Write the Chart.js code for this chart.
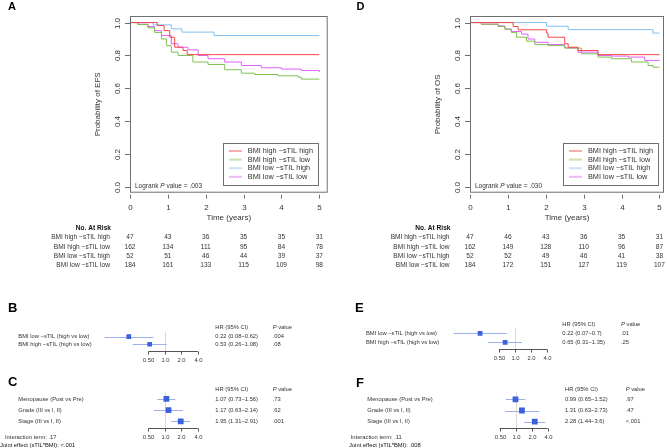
<!DOCTYPE html>
<html lang="en">
<head>
<meta charset="UTF-8">
<title>BMI and sTIL survival</title>
<script src="https://cdn.jsdelivr.net/npm/chart.js"></script>
<style>
  body { margin: 0; background: #fff; }
  #page { position: relative; width: 667px; height: 448px; overflow: hidden; background: #fff; }
  canvas { position: absolute; }
</style>
</head>
<body>
<div id="page">
  <canvas id="chartA" width="330" height="290" style="left:0;top:0"></canvas>
  <canvas id="chartD" width="337" height="290" style="left:330px;top:0"></canvas>
  <canvas id="chartB" width="330" height="72" style="left:0;top:290px"></canvas>
  <canvas id="chartC" width="330" height="86" style="left:0;top:362px"></canvas>
  <canvas id="chartE" width="337" height="72" style="left:330px;top:290px"></canvas>
  <canvas id="chartF" width="337" height="86" style="left:330px;top:362px"></canvas>
</div>

<script>
  const FONT = '"Liberation Sans", Arial, sans-serif';

  // shared labels
  const years = [0, 1, 2, 3, 4, 5];
  const probTicks = [0, 0.2, 0.4, 0.6, 0.8, 1.0];
  const groups = ['BMI high \u2212sTIL high', 'BMI high \u2212sTIL low', 'BMI low \u2212sTIL high', 'BMI low \u2212sTIL low'];
  const groupColors = ['#f04848', '#80c050', '#80c0f0', '#e060f8'];
  const legendColors = ['rgba(240,72,72,0.45)', 'rgba(128,192,80,0.45)', 'rgba(128,192,240,0.45)', 'rgba(224,96,248,0.45)'];

  // EFS curves (time in years, survival after the step)
  const efsHighHighT = [0, 0.72, 0.9, 1.05, 1.18, 1.4, 1.51, 5];
  const efsHighHighS = [1, 0.982, 0.951, 0.911, 0.85, 0.83, 0.805, 0.805];
  const efsHighLowT = [0, 0.21, 0.475, 0.65, 0.83, 0.96, 1.09, 1.27, 1.66, 2.06, 2.5, 2.94, 3.29, 3.91, 4.44, 4.52, 5];
  const efsHighLowS = [1, 0.988, 0.968, 0.94, 0.9, 0.86, 0.82, 0.8, 0.76, 0.745, 0.713, 0.692, 0.684, 0.676, 0.668, 0.656, 0.656];
  const efsLowHighT = [0, 0.61, 1.09, 1.37, 2.22, 5];
  const efsLowHighS = [1, 0.986, 0.962, 0.942, 0.921, 0.921];
  const efsLowLowT = [0, 0.2, 0.475, 0.65, 0.83, 1.09, 1.27, 1.53, 1.8, 2.06, 2.5, 2.94, 3.47, 4.0, 4.52, 5];
  const efsLowLowS = [1, 0.99, 0.976, 0.951, 0.921, 0.871, 0.85, 0.834, 0.8, 0.78, 0.76, 0.739, 0.725, 0.717, 0.708, 0.699];

  // OS curves
  const osHighHighT = [0, 1.14, 1.27, 2.02, 2.06, 2.5, 2.59, 2.85, 3.38, 5];
  const osHighHighS = [1, 0.976, 0.956, 0.936, 0.911, 0.871, 0.85, 0.83, 0.805, 0.805];
  const osHighLowT = [0, 0.3, 0.74, 0.92, 1.09, 1.23, 1.49, 1.71, 2.06, 2.5, 2.94, 3.38, 3.73, 4.26, 4.7, 4.83, 5];
  const osHighLowS = [1, 0.99, 0.976, 0.96, 0.94, 0.911, 0.887, 0.866, 0.86, 0.845, 0.81, 0.79, 0.78, 0.76, 0.739, 0.729, 0.729];
  const osLowHighT = [0, 2.02, 2.59, 4.83, 5];
  const osLowHighS = [1, 0.978, 0.957, 0.936, 0.936];
  const osLowLowT = [0, 0.3, 0.74, 0.92, 1.09, 1.36, 1.53, 1.71, 2.06, 2.5, 2.85, 3.38, 3.73, 4.17, 4.61, 5];
  const osLowLowS = [1, 0.99, 0.98, 0.96, 0.946, 0.93, 0.9, 0.88, 0.866, 0.846, 0.82, 0.8, 0.796, 0.79, 0.77, 0.77];

  // numbers at risk, one row per group, columns = years
  const efsRisk = [[47, 43, 36, 35, 35, 31], [162, 134, 111, 95, 84, 78], [52, 51, 46, 44, 39, 37], [184, 161, 133, 115, 109, 98]];
  const osRisk = [[47, 46, 43, 36, 35, 31], [162, 149, 128, 110, 96, 87], [52, 52, 49, 46, 41, 38], [184, 172, 151, 127, 119, 107]];

  // forest plots
  const hrTicks = [0.5, 1, 2, 4];
  const hrTickLabels = ['0.50', '1.0', '2.0', '4.0'];
  const sTilRows = ['BMI low \u2212sTIL (high vs low)', 'BMI high \u2212sTIL (high vs low)'];
  const covRows = ['Menopause (Post vs Pre)', 'Grade (III vs I, II)', 'Stage (III vs I, II)'];
  const bHR = [0.22, 0.53], bLo = [0.08, 0.26], bHi = [0.62, 1.08], bP = ['.004', '.08'];
  const cHR = [1.07, 1.17, 1.95], cLo = [0.73, 0.63, 1.31], cHi = [1.56, 2.14, 2.91], cP = ['.73', '.62', '.001'];
  const eHR = [0.22, 0.65], eLo = [0.07, 0.31], eHi = [0.7, 1.35], eP = ['.01', '.25'];
  const fHR = [0.99, 1.31, 2.28], fLo = [0.65, 0.63, 1.44], fHi = [1.52, 2.73, 3.6], fP = ['.97', '.47', '<.001'];

  function txt(ctx, s, x, y, size, align, style, color) {
    ctx.save();
    ctx.font = (style ? style + ' ' : '') + size + 'px ' + FONT;
    ctx.fillStyle = color || '#333';
    ctx.textAlign = align || 'left';
    ctx.textBaseline = 'middle';
    ctx.fillText(s, x, y);
    ctx.restore();
  }

  // "<before>P<after>" with an italic P, left aligned
  function pText(ctx, before, after, x, y, size) {
    ctx.save();
    ctx.font = size + 'px ' + FONT;
    const w1 = ctx.measureText(before).width;
    ctx.font = 'italic ' + size + 'px ' + FONT;
    const w2 = ctx.measureText('P').width;
    ctx.restore();
    txt(ctx, before, x, y, size);
    txt(ctx, 'P', x + w1, y, size, 'left', 'italic');
    txt(ctx, after, x + w1 + w2, y, size);
  }

  function seg(ctx, x1, y1, x2, y2) {
    ctx.beginPath();
    ctx.moveTo(x1, y1);
    ctx.lineTo(x2, y2);
    ctx.stroke();
  }

  const kmPlugin = {
    id: 'kmDecor',
    afterDraw(chart, args, o) {
      const ctx = chart.ctx, a = chart.chartArea, xs = chart.scales.x, ys = chart.scales.y;
      ctx.save();
      ctx.strokeStyle = '#6f6f6f';
      ctx.lineWidth = 1;
      ctx.strokeRect(a.left + 0.5, a.top + 0.5, a.right - a.left - 1, a.bottom - a.top - 1);

      probTicks.forEach(v => {
        const y = Math.round(ys.getPixelForValue(v)) + 0.5;
        seg(ctx, a.left - 5, y, a.left, y);
        ctx.save();
        ctx.translate(a.left - 12.5, y);
        ctx.rotate(-Math.PI / 2);
        txt(ctx, v.toFixed(1), 0, 0, 8, 'center');
        ctx.restore();
      });
      years.forEach(t => {
        const x = Math.round(xs.getPixelForValue(t)) + 0.5;
        seg(ctx, x, a.bottom + 2, x, a.bottom + 6);
        txt(ctx, String(t), x, a.bottom + 15, 8, 'center');
      });

      // axis titles
      ctx.save();
      ctx.translate(a.left - 32.5, (a.top + a.bottom) / 2);
      ctx.rotate(-Math.PI / 2);
      txt(ctx, o.yTitle, 0, 0, 8, 'center');
      ctx.restore();
      txt(ctx, 'Time (years)', (a.left + a.right) / 2, a.bottom + 25.5, 8, 'center');

      // legend
      const lr = xs.getPixelForValue(5) - 2;
      const ll = lr - 94.5;
      const lb = a.bottom - 7.7, lt = lb - 42.3;
      ctx.strokeStyle = '#6f6f6f';
      ctx.strokeRect(Math.round(ll) + 0.5, Math.round(lt) + 0.5, Math.round(lr - ll), Math.round(lb - lt));
      groups.forEach((g, i) => {
        const y = lt + 8.3 + i * 8.6;
        ctx.strokeStyle = legendColors[i];
        ctx.lineWidth = 2;
        seg(ctx, ll + 6, y, ll + 19, y);
        txt(ctx, g, ll + 25, y, 7.3);
      });

      // log-rank p value
      pText(ctx, 'Logrank ', ' value = ' + o.pValue, a.left + 5, ys.getPixelForValue(0) - 0.5, 6.5);

      // numbers at risk
      txt(ctx, 'No. At Risk', o.tableX + 1, a.bottom + 35, 6.6, 'right', 'bold', '#111');
      o.risk.forEach((row, i) => {
        const y = a.bottom + 44.6 + i * 9.45;
        txt(ctx, groups[i], o.tableX, y, 6.6, 'right');
        row.forEach((n, j) => txt(ctx, String(n), xs.getPixelForValue(years[j]), y, 6.6, 'center'));
      });

      txt(ctx, o.letter, o.letterX, 7, 11, 'left', 'bold', '#000');
      ctx.restore();
    }
  };

  function kmDatasets(curves) {
    return curves.map((c, i) => ({
      label: groups[i],
      data: c[0].map((t, k) => ({ x: t, y: c[1][k] })),
      borderColor: groupColors[i],
      borderWidth: 1,
      pointRadius: 0,
      stepped: 'before',
      fill: false
    }));
  }

  function makeKM(id, curves, deco, pad, xMax) {
    new Chart(document.getElementById(id), {
      type: 'line',
      data: { datasets: kmDatasets(curves) },
      options: {
        responsive: false,
        animation: false,
        events: [],
        layout: { padding: pad },
        scales: {
          x: { type: 'linear', min: 0, max: xMax, display: false },
          y: { type: 'linear', min: -0.035, max: 1.04, display: false }
        },
        plugins: {
          legend: { display: false },
          tooltip: { enabled: false },
          kmDecor: deco
        }
      },
      plugins: [kmPlugin]
    });
  }

  makeKM('chartA',
    [[efsHighHighT, efsHighHighS], [efsHighLowT, efsHighLowS], [efsLowHighT, efsLowHighS], [efsLowLowT, efsLowLowS]],
    { yTitle: 'Probability of EFS', pValue: '.003', risk: efsRisk, tableX: 110, letter: 'A', letterX: 8 },
    { left: 130, top: 16, right: 2.3, bottom: 97.3 }, 5.22);

  makeKM('chartD',
    [[osHighHighT, osHighHighS], [osHighLowT, osHighLowS], [osLowHighT, osLowHighS], [osLowLowT, osLowLowS]],
    { yTitle: 'Probability of OS', pValue: '.030', risk: osRisk, tableX: 119.5, letter: 'D', letterX: 26.5 },
    { left: 140, top: 16, right: 3, bottom: 97.3 }, 5.12);

  const FS = 5.8;

  const forestPlugin = {
    id: 'forestDecor',
    beforeDatasetsDraw(chart, args, o) {
      const ctx = chart.ctx, a = chart.chartArea, xs = chart.scales.x, ys = chart.scales.y;
      ctx.save();
      ctx.lineWidth = 1;
      ctx.strokeStyle = '#d8d8d8';
      const x1 = Math.round(xs.getPixelForValue(1)) + 0.5;
      seg(ctx, x1, ys.getPixelForValue(0.4), x1, a.bottom);
      ctx.strokeStyle = '#9db0ee';
      o.hr.forEach((h, i) => {
        const y = Math.round(ys.getPixelForValue(i + 1)) + 0.5;
        seg(ctx, xs.getPixelForValue(o.lo[i]), y, xs.getPixelForValue(o.hi[i]), y);
      });
      ctx.restore();
    },
    afterDraw(chart, args, o) {
      const ctx = chart.ctx, a = chart.chartArea, xs = chart.scales.x, ys = chart.scales.y;
      ctx.save();
      ctx.strokeStyle = '#555';
      ctx.lineWidth = 1;
      const yb = Math.round(a.bottom) + 0.5;
      seg(ctx, xs.getPixelForValue(hrTicks[0]), yb, xs.getPixelForValue(hrTicks[hrTicks.length - 1]), yb);
      hrTicks.forEach((v, k) => {
        const x = Math.round(xs.getPixelForValue(v)) + 0.5;
        seg(ctx, x, yb, x, yb + 3);
        txt(ctx, hrTickLabels[k], x, yb + 9, FS, 'center');
      });

      txt(ctx, o.letter, o.letterX, o.letterY, 13, 'left', 'bold', '#000');
      txt(ctx, 'HR (95% CI)', o.hrX, o.headY, FS);
      pText(ctx, '', ' value', o.pX, o.headY, FS);
      o.rows.forEach((r, i) => {
        const y = ys.getPixelForValue(i + 1);
        txt(ctx, r, o.labelX, y, FS);
        txt(ctx, o.hr[i].toFixed(2) + ' (' + o.lo[i] + '\u2212' + o.hi[i] + ')', o.hrX, y, FS);
        txt(ctx, o.p[i], o.pX, y, FS);
      });
      if (o.notes) {
        txt(ctx, o.notes[0], o.notesX[0], yb + 9, FS);
        txt(ctx, o.notes[1], o.notesX[1], yb + 16.5, FS, 'left', null, '#111');
      }
      ctx.restore();
    }
  };

  function makeForest(id, deco, pad, yMax, square) {
    new Chart(document.getElementById(id), {
      type: 'scatter',
      data: {
        datasets: [{
          data: deco.hr.map((h, i) => ({ x: h, y: i + 1 })),
          pointStyle: 'rect',
          pointRadius: square / Math.SQRT2,
          backgroundColor: '#3b62dc',
          borderWidth: 0
        }]
      },
      options: {
        responsive: false,
        animation: false,
        events: [],
        layout: { padding: pad },
        scales: {
          x: { type: 'logarithmic', min: 0.03, max: 8, bounds: 'data', display: false },
          y: { type: 'linear', min: 0, max: yMax, reverse: true, display: false }
        },
        plugins: {
          legend: { display: false },
          tooltip: { enabled: false },
          forestDecor: deco
        }
      },
      plugins: [forestPlugin]
    });
  }

  makeForest('chartB',
    { rows: sTilRows, hr: bHR, lo: bLo, hi: bHi, p: bP, letter: 'B', letterX: 8, letterY: 18.5, labelX: 18.3, hrX: 215.3, pX: 272.7, headY: 37.7 },
    { left: 81.3, right: 115.7, top: 39.1, bottom: 10.9 }, 2.9, 4.7);

  makeForest('chartC',
    { rows: covRows, hr: cHR, lo: cLo, hi: cHi, p: cP, letter: 'C', letterX: 8, letterY: 20, labelX: 18.3, hrX: 215.3, pX: 272.7, headY: 27.3,
      notes: ['Interaction term: .17', 'Joint effect (sTIL*BMI): <.001'], notesX: [5, 0] },
    { left: 81.3, right: 115.7, top: 25.8, bottom: 20 }, 3.6, 5.8);

  makeForest('chartE',
    { rows: sTilRows, hr: eHR, lo: eLo, hi: eHi, p: eP, letter: 'E', letterX: 25, letterY: 18, labelX: 36, hrX: 232.3, pX: 291, headY: 34.3 },
    { left: 104.1, right: 104, top: 34.3, bottom: 12.95 }, 2.75, 4.8);

  makeForest('chartF',
    { rows: covRows, hr: fHR, lo: fLo, hi: fHi, p: fP, letter: 'F', letterX: 26, letterY: 21, labelX: 37.3, hrX: 235, pX: 295.7, headY: 27.3,
      notes: ['Interaction term: .11', 'Joint effect (sTIL*BMI): .008'], notesX: [20.7, 19] },
    { left: 104.8, right: 103.3, top: 26.1, bottom: 20 }, 3.56, 5.8);
</script>
</body>
</html>
